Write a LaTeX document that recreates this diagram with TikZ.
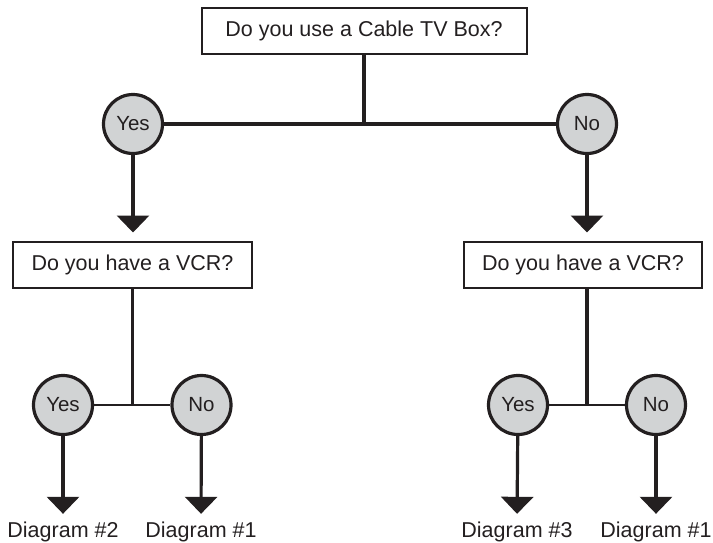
\documentclass[tikz,border=0pt]{standalone}
\usepackage{fontspec}
\setmainfont{Liberation Sans}
\usetikzlibrary{arrows.meta}
\definecolor{ink}{HTML}{231F20}
\definecolor{disc}{HTML}{D1D3D4}
\begin{document}
\begin{tikzpicture}[x=1pt,y=-1pt,color=ink,line width=3.2pt,
  question/.style={draw,line width=2pt,inner sep=0,minimum height=46pt,font=\fontsize{21.5}{24}\selectfont},
  answer/.style={circle,draw,fill=disc,line width=3.2pt,inner sep=0,minimum size=59pt,font=\fontsize{20.5}{24}\selectfont},
  outcome/.style={anchor=base,inner sep=0,font=\fontsize{21.5}{24}\selectfont},
  down/.style={-{Triangle[width=32pt,length=17pt]}}]
\useasboundingbox (0,0) rectangle (713,542);
\node (q1) at (364,31) [question,minimum width=325pt] {Do you use a Cable TV Box?};
\node (yes1) at (133,124) [answer] {Yes};
\node (no1) at (587,124) [answer] {No};
\coordinate (j1) at (q1.south |- yes1);
\draw (q1) -- (j1);
\draw (yes1) -- (no1);
\node (q2) at (132.5,264.5) [question,minimum width=239pt] {Do you have a VCR?};
\node (q3) at (583,264.5) [question,minimum width=238pt] {Do you have a VCR?};
\draw [down,shorten >=8pt] (yes1) -- (yes1 |- q2.north);
\draw [down,shorten >=8pt] (no1) -- (no1 |- q3.north);
% left branch
\node (yes2) at (63,405) [answer] {Yes};
\node (no2) at (201.5,405) [answer] {No};
\coordinate (j2) at (q2.south |- yes2);
\draw (q2) -- (j2);
\draw [line width=2.8pt] (yes2) -- (no2);
\node (d2) at (63,537) [outcome] {Diagram \#2};
\node (d1a) at (201,537) [outcome] {Diagram \#1};
\draw [down,shorten >=6pt] (yes2) -- (d2.north);
\draw [down,shorten >=6pt] (no2) -- (d1a.north);
% right branch
\node (yes3) at (518,405) [answer] {Yes};
\node (no3) at (656,405) [answer] {No};
\coordinate (j3) at (587,405);
\draw (q3.south -| j3) -- (j3);
\draw [line width=2.8pt] (yes3) -- (no3);
\node (d3) at (517,537) [outcome] {Diagram \#3};
\node (d1b) at (656,537) [outcome] {Diagram \#1};
\draw [down,shorten >=6pt] (yes3) -- (d3.north);
\draw [down,shorten >=6pt] (no3) -- (d1b.north);
\end{tikzpicture}
\end{document}
